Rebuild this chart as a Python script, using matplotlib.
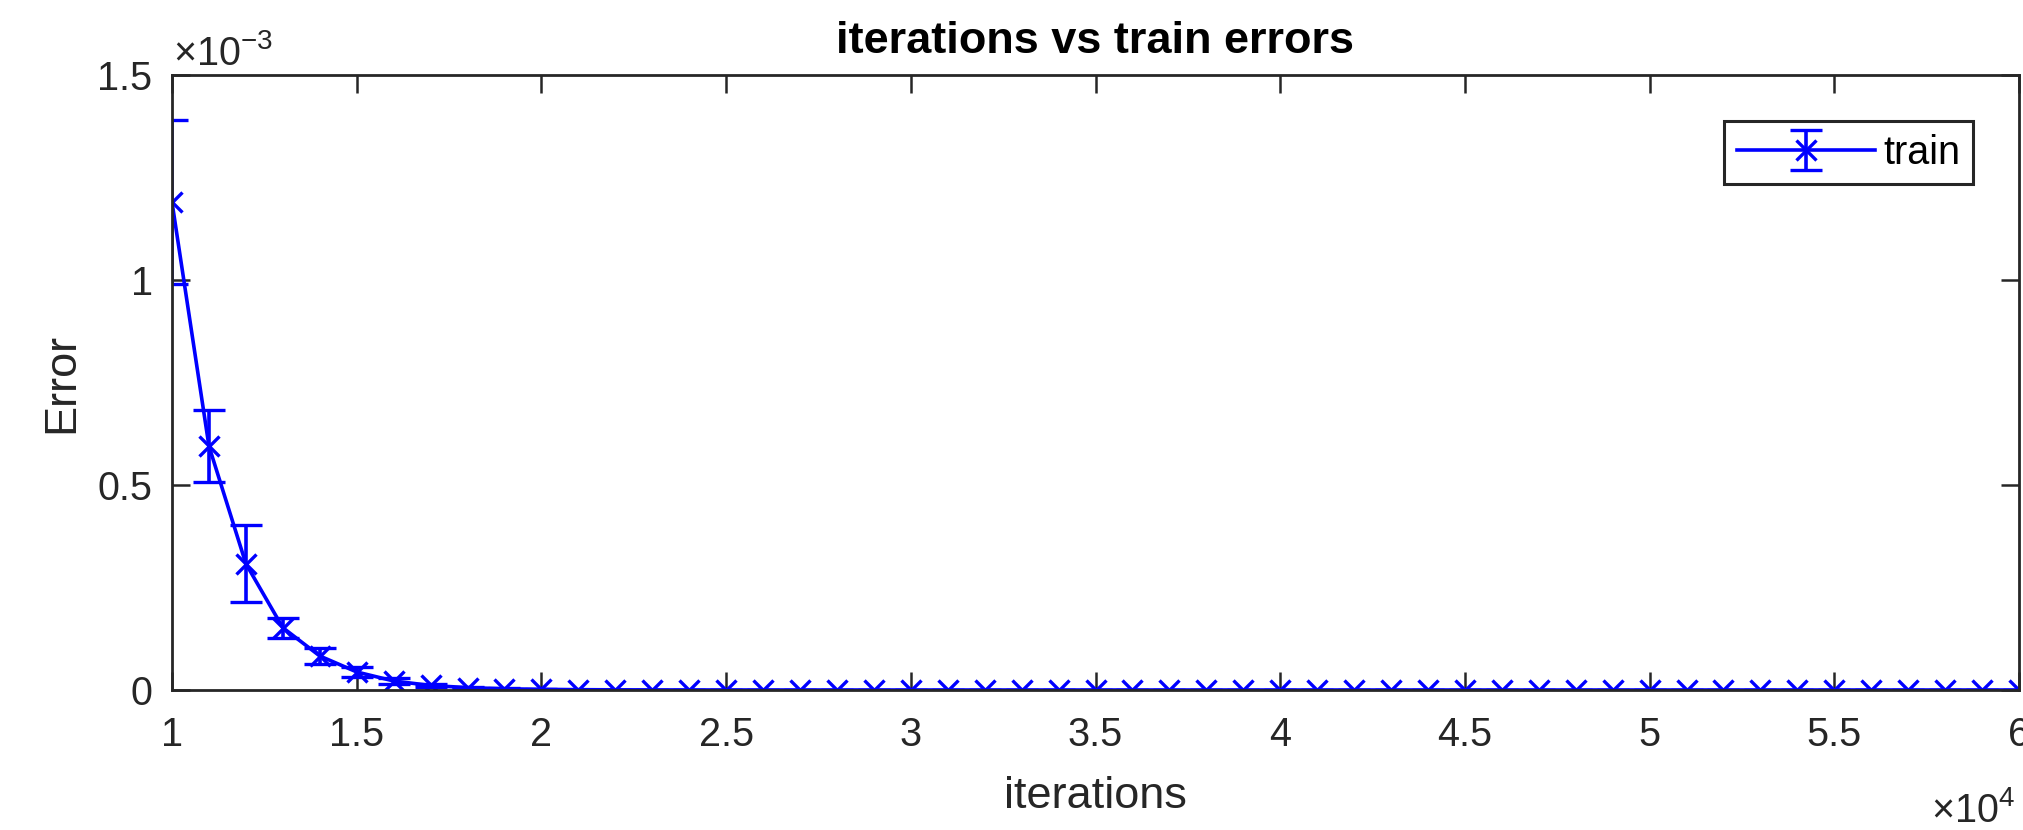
import matplotlib
matplotlib.use("Agg")
import matplotlib.pyplot as plt
from matplotlib.ticker import FuncFormatter, FixedLocator
from matplotlib.transforms import offset_copy

# Training error (mean and spread) recorded every 1000 iterations
iterations = [
    10000, 11000, 12000, 13000, 14000, 15000, 16000, 17000, 18000, 19000,
    20000, 21000, 22000, 23000, 24000, 25000, 26000, 27000, 28000, 29000,
    30000, 31000, 32000, 33000, 34000, 35000, 36000, 37000, 38000, 39000,
    40000, 41000, 42000, 43000, 44000, 45000, 46000, 47000, 48000, 49000,
    50000, 51000, 52000, 53000, 54000, 55000, 56000, 57000, 58000, 59000,
    60000,
]
train_error = [
    1.19e-3, 0.595e-3, 0.308e-3, 0.152e-3, 0.083e-3, 0.044e-3, 0.022e-3,
    0.011e-3, 0.0058e-3, 0.0030e-3, 0.0016e-3, 0.0008e-3, 0.0004e-3,
    0.0002e-3, 0.0001e-3, 0.00005e-3, 0.00003e-3, 0.00002e-3, 0.00001e-3,
    0.0, 0.0, 0.0, 0.0, 0.0, 0.0, 0.0, 0.0, 0.0, 0.0, 0.0,
    0.0, 0.0, 0.0, 0.0, 0.0, 0.0, 0.0, 0.0, 0.0, 0.0,
    0.0, 0.0, 0.0, 0.0, 0.0, 0.0, 0.0, 0.0, 0.0, 0.0,
    0.0,
]
train_spread = [
    0.200e-3, 0.087e-3, 0.094e-3, 0.024e-3, 0.019e-3, 0.012e-3, 0.007e-3,
    0.004e-3, 0.002e-3, 0.001e-3, 0.0006e-3, 0.0003e-3, 0.0002e-3,
    0.0001e-3, 0.00005e-3, 0.00002e-3, 0.00001e-3, 0.0, 0.0,
    0.0, 0.0, 0.0, 0.0, 0.0, 0.0, 0.0, 0.0, 0.0, 0.0, 0.0,
    0.0, 0.0, 0.0, 0.0, 0.0, 0.0, 0.0, 0.0, 0.0, 0.0,
    0.0, 0.0, 0.0, 0.0, 0.0, 0.0, 0.0, 0.0, 0.0, 0.0,
    0.0,
]
x_ticks = [10000, 15000, 20000, 25000, 30000, 35000, 40000, 45000, 50000, 55000, 60000]
y_ticks = [0.0, 0.5e-3, 1.0e-3, 1.5e-3]

plt.rcParams["font.family"] = ["Liberation Sans", "DejaVu Sans"]
plt.rcParams["mathtext.fontset"] = "custom"
plt.rcParams["mathtext.rm"] = "Liberation Sans"
plt.rcParams["mathtext.it"] = "Liberation Sans:italic"
plt.rcParams["mathtext.bf"] = "Liberation Sans:bold"

DARK = (0.15, 0.15, 0.15)
BLUE = (0.0, 0.0, 1.0)
TICK_FS = 28.5
LABEL_FS = 32.5
LW = 2.6

fig = plt.figure(figsize=(20.23, 8.30), dpi=100)
ax = fig.add_axes([172 / 2023, 140 / 830, 1847 / 2023, 615 / 830])

ax.errorbar(
    iterations, train_error, yerr=train_spread,
    color=BLUE, linewidth=LW, elinewidth=LW,
    marker="x", markersize=14, markeredgewidth=2.4,
    capsize=11.5, capthick=LW, label="train",
)

ax.set_xlim(10000, 60000)
ax.set_ylim(0, 1.5e-3)
ax.xaxis.set_major_locator(FixedLocator(x_ticks))
ax.yaxis.set_major_locator(FixedLocator(y_ticks))
ax.xaxis.set_major_formatter(FuncFormatter(lambda v, p: "%g" % (v / 1e4)))
ax.yaxis.set_major_formatter(FuncFormatter(lambda v, p: "%g" % (v / 1e-3)))

ax.tick_params(axis="both", which="major", direction="in", length=13, width=1.8,
               colors=DARK, labelsize=TICK_FS, top=True, right=True)
ax.tick_params(axis="x", pad=19)
ax.tick_params(axis="y", pad=14)
for side in ax.spines.values():
    side.set_color(DARK)
    side.set_linewidth(2.0)

# exponent annotations for the scaled axes
ax.text(0, 1, r"$\mathregular{\times10^{-3}}$", fontsize=TICK_FS, color=DARK,
        ha="left", va="baseline",
        transform=offset_copy(ax.transAxes, fig=fig, x=1, y=10, units="dots"))
ax.text(1, 0, r"$\mathregular{\times10^{4}}$", fontsize=TICK_FS, color=DARK,
        ha="right", va="baseline",
        transform=offset_copy(ax.transAxes, fig=fig, x=-4, y=-132, units="dots"))

ax.set_title("iterations vs train errors", fontsize=LABEL_FS, fontweight="bold",
             color="black", pad=15.8)
ax.set_xlabel("iterations", fontsize=LABEL_FS, color=DARK)
ax.set_ylabel("Error", fontsize=LABEL_FS, color=DARK)
ax.xaxis.set_label_coords(0.5, -0.14)
ax.yaxis.set_label_coords(-0.0487, 0.5)

leg = ax.legend(loc="upper right", bbox_to_anchor=(0.9751, 0.9252),
                fontsize=TICK_FS, handlelength=3.5, handletextpad=0.2,
                borderpad=0.32, borderaxespad=0.0, fancybox=False,
                framealpha=1.0, edgecolor=DARK)
leg.get_frame().set_linewidth(2.2)

fig.savefig("out.png", dpi=100, facecolor="white")
